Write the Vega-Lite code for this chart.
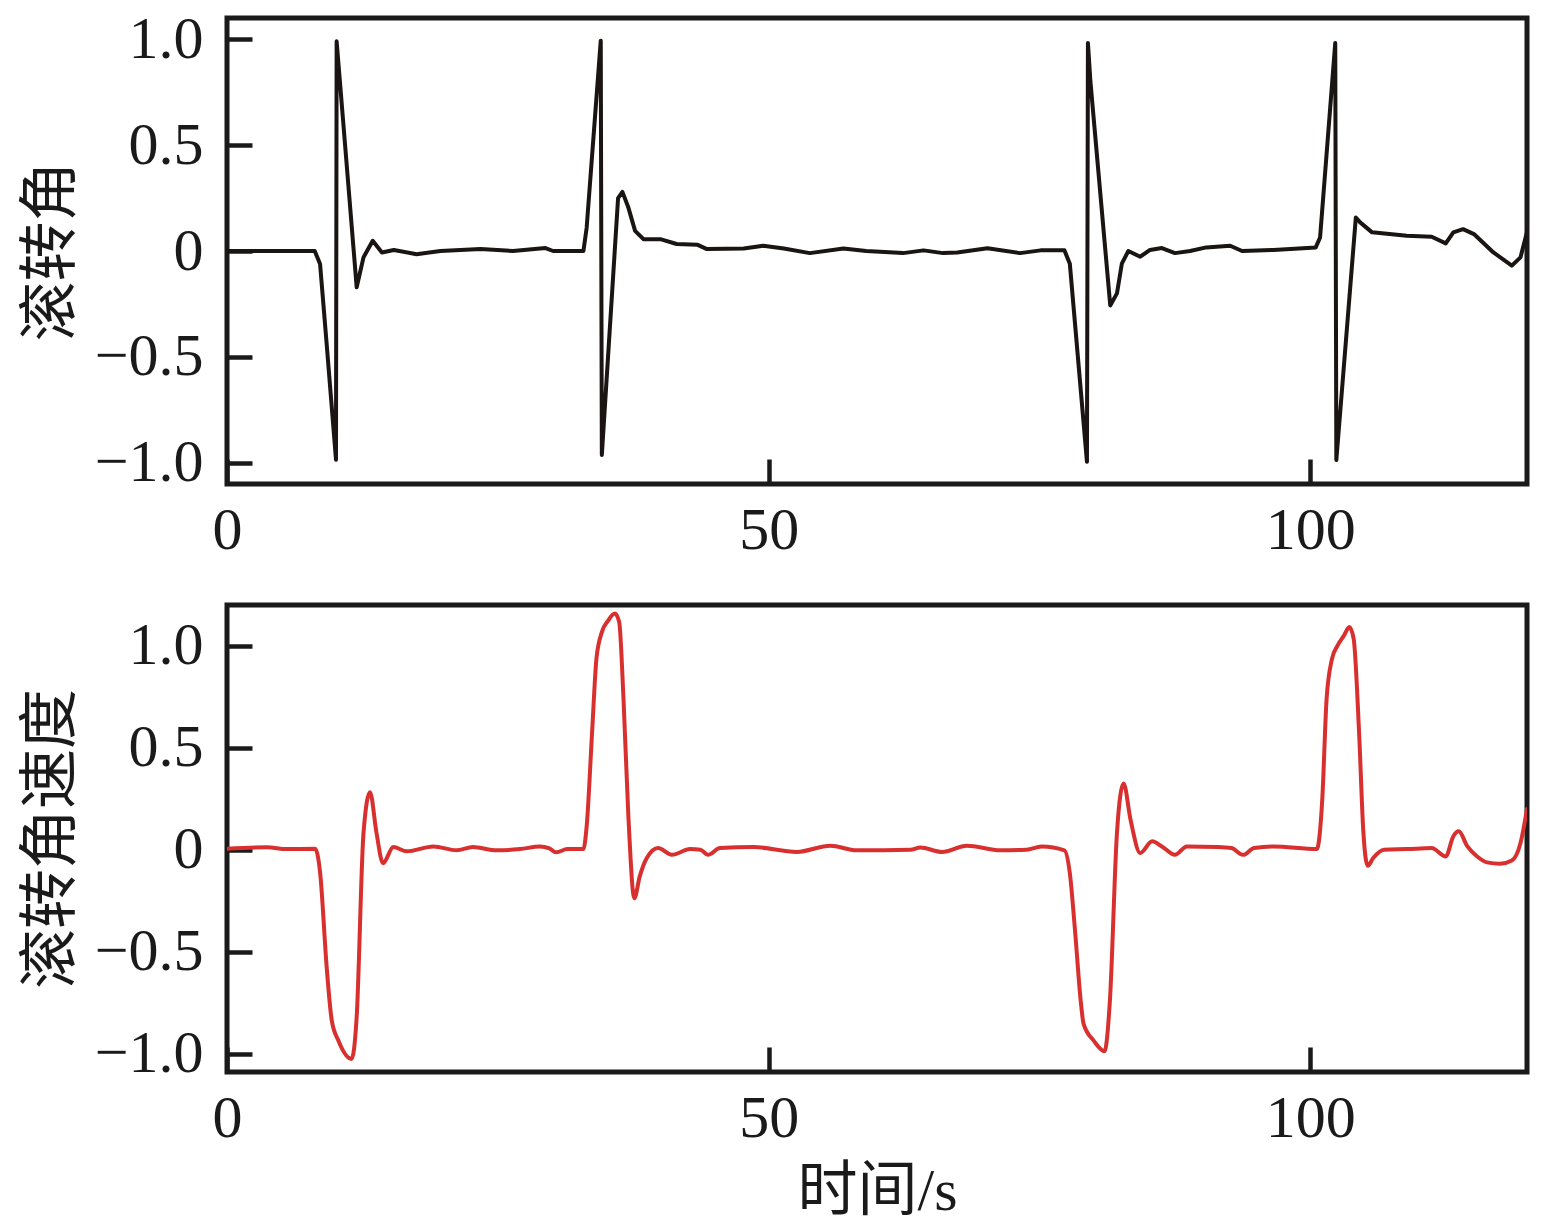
{
  "$schema": "https://vega.github.io/schema/vega-lite/v6.json",
  "background": "white",
  "padding": {"left": 18, "top": 6, "right": 30, "bottom": 5},
  "spacing": 39,
  "datasets": {
    "roll": [
      {"t": 0, "v": 0}, {"t": 8.1, "v": 0}, {"t": 8.59, "v": -0.061}, {"t": 9.2, "v": -0.44},
      {"t": 10.06, "v": -0.985}, {"t": 10.12, "v": 0.99}, {"t": 11.97, "v": -0.171},
      {"t": 12.6, "v": -0.03}, {"t": 13.45, "v": 0.048}, {"t": 14.3, "v": -0.007}, {"t": 15.4, "v": 0.005},
      {"t": 17.5, "v": -0.015}, {"t": 19.7, "v": 0}, {"t": 23.4, "v": 0.01}, {"t": 26.4, "v": 0},
      {"t": 29.4, "v": 0.014}, {"t": 30.1, "v": 0}, {"t": 32.9, "v": 0}, {"t": 33.2, "v": 0.11},
      {"t": 34.5, "v": 0.993}, {"t": 34.6, "v": -0.963}, {"t": 36.1, "v": 0.25}, {"t": 36.5, "v": 0.279},
      {"t": 37.05, "v": 0.205}, {"t": 37.67, "v": 0.095}, {"t": 38.44, "v": 0.056}, {"t": 40.0, "v": 0.056},
      {"t": 41.5, "v": 0.033}, {"t": 43.4, "v": 0.03}, {"t": 44.3, "v": 0.009}, {"t": 47.7, "v": 0.012},
      {"t": 49.5, "v": 0.025}, {"t": 51.4, "v": 0.012}, {"t": 53.8, "v": -0.01}, {"t": 56.9, "v": 0.012},
      {"t": 59.0, "v": 0}, {"t": 62.4, "v": -0.01}, {"t": 64.3, "v": 0.003}, {"t": 66.1, "v": -0.01},
      {"t": 67.4, "v": -0.007}, {"t": 70.2, "v": 0.013}, {"t": 73.2, "v": -0.01}, {"t": 75.1, "v": 0.003},
      {"t": 77.3, "v": 0.003}, {"t": 77.8, "v": -0.06}, {"t": 79.38, "v": -0.995}, {"t": 79.47, "v": 0.982},
      {"t": 79.7, "v": 0.8}, {"t": 81.53, "v": -0.257}, {"t": 82.15, "v": -0.2}, {"t": 82.6, "v": -0.06},
      {"t": 83.2, "v": 0}, {"t": 84.3, "v": -0.027}, {"t": 85.2, "v": 0.005}, {"t": 86.3, "v": 0.014},
      {"t": 87.5, "v": -0.01}, {"t": 88.9, "v": 0}, {"t": 90.4, "v": 0.017}, {"t": 92.6, "v": 0.025},
      {"t": 93.7, "v": 0}, {"t": 96.6, "v": 0.005}, {"t": 100.5, "v": 0.017}, {"t": 100.9, "v": 0.064},
      {"t": 102.3, "v": 0.982}, {"t": 102.4, "v": -0.987}, {"t": 104.2, "v": 0.158}, {"t": 104.6, "v": 0.135},
      {"t": 105.7, "v": 0.088}, {"t": 108.9, "v": 0.072}, {"t": 111.2, "v": 0.067}, {"t": 112.5, "v": 0.036},
      {"t": 113.2, "v": 0.088}, {"t": 114.1, "v": 0.103}, {"t": 115.1, "v": 0.08}, {"t": 116.9, "v": -0.007},
      {"t": 118.6, "v": -0.069}, {"t": 119.4, "v": -0.03}, {"t": 120, "v": 0.09}
    ],
    "rate": [
      {"t": 0, "v": 0.005}, {"t": 3.7, "v": 0.012}, {"t": 5.5, "v": 0.003}, {"t": 8.13, "v": 0.005},
      {"t": 8.6, "v": -0.115}, {"t": 9.2, "v": -0.575}, {"t": 9.67, "v": -0.837}, {"t": 10.28, "v": -0.936},
      {"t": 11.5, "v": -1.026}, {"t": 11.97, "v": -0.82}, {"t": 12.6, "v": 0.082}, {"t": 13.2, "v": 0.282},
      {"t": 13.8, "v": 0.082}, {"t": 14.4, "v": -0.066}, {"t": 15.36, "v": 0.013}, {"t": 16.6, "v": -0.008},
      {"t": 19.05, "v": 0.016}, {"t": 21.2, "v": -0.003}, {"t": 22.7, "v": 0.013}, {"t": 24.9, "v": -0.003},
      {"t": 27.05, "v": 0.003}, {"t": 28.9, "v": 0.016}, {"t": 29.7, "v": 0.008}, {"t": 30.4, "v": -0.013},
      {"t": 31.4, "v": 0.003}, {"t": 32.9, "v": 0.003}, {"t": 33.2, "v": 0.115}, {"t": 33.7, "v": 0.575},
      {"t": 34.1, "v": 0.936}, {"t": 34.6, "v": 1.067}, {"t": 35.2, "v": 1.125}, {"t": 35.8, "v": 1.158},
      {"t": 36.2, "v": 1.117}, {"t": 36.6, "v": 0.739}, {"t": 37.05, "v": 0.164}, {"t": 37.6, "v": -0.238},
      {"t": 38.1, "v": -0.131}, {"t": 38.75, "v": -0.041}, {"t": 39.8, "v": 0.008}, {"t": 41.06, "v": -0.025},
      {"t": 42.75, "v": 0.003}, {"t": 43.7, "v": 0}, {"t": 44.4, "v": -0.025}, {"t": 45.5, "v": 0.008},
      {"t": 48.6, "v": 0.013}, {"t": 52.6, "v": -0.011}, {"t": 55.7, "v": 0.02}, {"t": 58.1, "v": -0.003},
      {"t": 63.1, "v": 0}, {"t": 64.0, "v": 0.011}, {"t": 66.0, "v": -0.011}, {"t": 68.3, "v": 0.02},
      {"t": 71.4, "v": -0.003}, {"t": 73.8, "v": 0}, {"t": 75.2, "v": 0.016}, {"t": 77.3, "v": -0.003},
      {"t": 77.8, "v": -0.115}, {"t": 78.3, "v": -0.41}, {"t": 78.8, "v": -0.739}, {"t": 79.07, "v": -0.854},
      {"t": 80.0, "v": -0.936}, {"t": 81.0, "v": -0.988}, {"t": 81.5, "v": -0.739}, {"t": 82.15, "v": 0.082},
      {"t": 82.76, "v": 0.325}, {"t": 83.4, "v": 0.148}, {"t": 84.3, "v": -0.016}, {"t": 85.4, "v": 0.041},
      {"t": 86.3, "v": 0.016}, {"t": 87.5, "v": -0.025}, {"t": 88.6, "v": 0.016}, {"t": 91.4, "v": 0.013},
      {"t": 92.7, "v": 0.008}, {"t": 93.8, "v": -0.025}, {"t": 94.8, "v": 0.008}, {"t": 96.6, "v": 0.016},
      {"t": 100.6, "v": 0.003}, {"t": 101.1, "v": 0.246}, {"t": 101.5, "v": 0.739}, {"t": 102.0, "v": 0.936},
      {"t": 102.5, "v": 1.0}, {"t": 103.1, "v": 1.05}, {"t": 103.6, "v": 1.092}, {"t": 104.0, "v": 1.034},
      {"t": 104.5, "v": 0.575}, {"t": 104.9, "v": 0.082}, {"t": 105.3, "v": -0.079}, {"t": 105.8, "v": -0.041},
      {"t": 106.8, "v": 0}, {"t": 108.9, "v": 0.003}, {"t": 111.2, "v": 0.008}, {"t": 112.5, "v": -0.033},
      {"t": 113.2, "v": 0.066}, {"t": 113.7, "v": 0.09}, {"t": 114.5, "v": 0.016}, {"t": 115.4, "v": -0.033},
      {"t": 116.3, "v": -0.062}, {"t": 117.5, "v": -0.069}, {"t": 118.6, "v": -0.053}, {"t": 119.4, "v": 0.033},
      {"t": 120, "v": 0.2}
    ]
  },
  "vconcat": [
    {
      "width": 1300,
      "height": 466,
      "data": {"name": "roll"},
      "mark": {"type": "line", "color": "#1a1412", "strokeWidth": 4, "strokeJoin": "round", "strokeCap": "round", "interpolate": "linear", "clip": true},
      "encoding": {
        "x": {
          "field": "t", "type": "quantitative",
          "scale": {"domain": [0, 120], "nice": false, "zero": false},
          "axis": {"title": null, "values": [0, 50, 100], "labelPadding": 42, "labelFlush": false}
        },
        "y": {
          "field": "v", "type": "quantitative",
          "scale": {"domain": [-1.1, 1.1], "nice": false, "zero": false},
          "axis": {
            "title": "滚转角", "values": [-1, -0.5, 0, 0.5, 1], "labelPadding": 49, "titlePadding": 12,
            "labelExpr": "datum.value == 0 ? '0' : format(datum.value, '.1f')"
          }
        }
      }
    },
    {
      "width": 1300,
      "height": 467,
      "data": {"name": "rate"},
      "mark": {"type": "line", "color": "#d8302f", "strokeWidth": 4, "strokeJoin": "round", "strokeCap": "round", "interpolate": "monotone", "clip": true},
      "encoding": {
        "x": {
          "field": "t", "type": "quantitative",
          "scale": {"domain": [0, 120], "nice": false, "zero": false},
          "axis": {"title": "时间/s", "values": [0, 50, 100], "labelPadding": 42, "labelFlush": false, "titlePadding": 14}
        },
        "y": {
          "field": "v", "type": "quantitative",
          "scale": {"domain": [-1.09, 1.2], "nice": false, "zero": false},
          "axis": {
            "title": "滚转角速度", "values": [-1, -0.5, 0, 0.5, 1], "labelPadding": 49, "titlePadding": 12,
            "labelExpr": "datum.value == 0 ? '0' : format(datum.value, '.1f')"
          }
        }
      }
    }
  ],
  "config": {
    "view": {"stroke": "#1a1a1a", "strokeWidth": 5},
    "axis": {
      "grid": false,
      "domain": false,
      "ticks": true,
      "tickColor": "#1a1a1a",
      "tickWidth": 4.5,
      "tickSize": -25,
      "labelFont": "Liberation Serif",
      "labelFontSize": 60,
      "labelColor": "#1a1a1a",
      "labelOverlap": false,
      "titleFont": "Liberation Serif, Noto Sans CJK SC",
      "titleFontSize": 60,
      "titleFontWeight": "normal",
      "titleColor": "#1a1a1a"
    }
  }
}
